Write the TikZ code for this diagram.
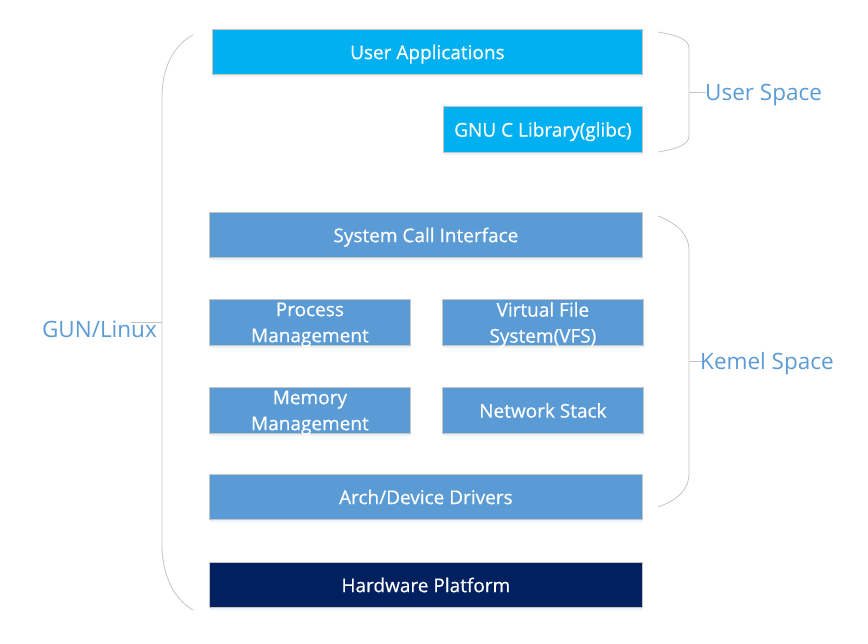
\documentclass[tikz,border=0pt]{standalone}
\usepackage{fontspec}
\setmainfont{Open Sans}
\newfontfamily\boxfont{Open Sans}[FakeBold=0.4]
\usetikzlibrary{shadows}
\definecolor{ua}{HTML}{00B0F0}
\definecolor{kb}{HTML}{5B9BD5}
\definecolor{hw}{HTML}{002060}
\definecolor{br}{HTML}{C4C4C4}
\definecolor{lbl}{HTML}{5B9BD5}
\begin{document}
\begin{tikzpicture}[x=1pt,y=-1pt,
  blk/.style={draw=br, line width=0.8pt, text=white, font=\boxfont\fontsize{19}{26}\selectfont,
    align=center, inner sep=0pt, anchor=north west, text depth=0pt,
    drop shadow={shadow xshift=1pt, shadow yshift=-3pt, fill=kb!20, opacity=0.6}},
  wide/.style={blk, minimum width=433pt, minimum height=45pt},
  half/.style={blk, minimum width=201pt, minimum height=46pt},
  brace/.style={draw=br, line width=0.8pt},
  side/.style={text=lbl, font=\fontsize{22.5}{26}\selectfont, inner sep=0pt}]
\useasboundingbox (0,0) rectangle (868,643);
% boxes
\node[wide, fill=ua, minimum width=430pt] (ua) at (212,29) {User Applications};
\node[half, fill=ua, minimum width=199pt] (glibc) at (443,106) {GNU C Library(glibc)};
\node[wide, fill=kb] (sci) at (209,212) {System Call Interface};
\node[half, fill=kb] (pm) at (209,299) {Process\\Management};
\node[half, fill=kb] (vfs) at (442,299) {Virtual File\\System(VFS)};
\node[half, fill=kb] (mm) at (209,387) {Memory\\Management};
\node[half, fill=kb] (ns) at (442,387) {Network Stack};
\node[wide, fill=kb] (arch) at (209,474) {Arch/Device Drivers};
\node[wide, fill=hw] (hw) at (209,562) {Hardware Platform};
% left brace
\coordinate (lt) at (193,35);
\coordinate (lb) at (193,610);
\coordinate (lm) at (162,322);
\coordinate (ltick) at (131,322);
\draw[brace] (lt) .. controls (172,46) and (162,70) .. (162,97) -- (162,545) .. controls (162,572) and (172,598) .. (lb);
\draw[brace] (lm) -- (ltick);
\node[side, anchor=base east] (gl) at (157,337) {GUN/Linux};
% user space brace
\coordinate (ut) at (658,32);
\coordinate (ub) at (658,152);
\coordinate (um) at (689,92);
\coordinate (utick) at (706,92);
\draw[brace] (ut) .. controls (676,35) and (689,39) .. (689,48) -- (689,136) .. controls (689,145) and (676,149) .. (ub);
\draw[brace] (um) -- (utick);
\node[side, anchor=base west] (us) at (705,100) {User Space};
% kernel space brace
\coordinate (kt) at (658,216);
\coordinate (kb2) at (658,507);
\coordinate (km) at (689,361);
\coordinate (ktick) at (705,361);
\draw[brace] (kt) .. controls (678,224) and (689,235) .. (689,250) -- (689,474) .. controls (689,489) and (678,500) .. (kb2);
\draw[brace] (km) -- (ktick);
\node[side, anchor=base west] (ks) at (700,369) {Kemel Space};
\end{tikzpicture}
\end{document}
